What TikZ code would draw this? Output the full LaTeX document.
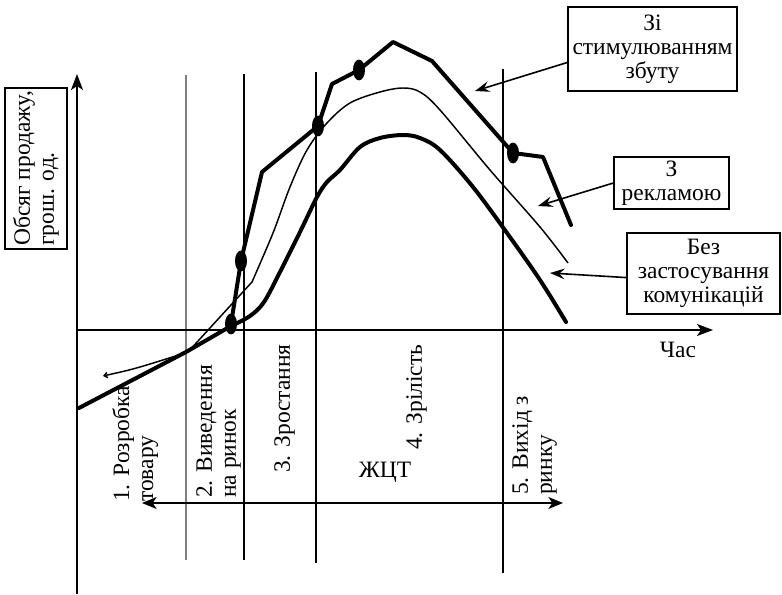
\documentclass[tikz,border=0pt]{standalone}
\usepackage{fontspec}
\setmainfont{Liberation Serif}
\newfontfamily\lserif{Liberation Serif}
\usetikzlibrary{arrows.meta,calc}
\begin{document}
\begin{tikzpicture}[x=0.75pt,y=-0.75pt,
  every node/.style={font=\lserif\fontsize{17.6}{18}\selectfont},
  lbl/.style={draw,line width=1.2pt,align=center,inner sep=2pt},
  gridline/.style={line width=1.2pt},
  boldcurve/.style={line width=3pt,line join=round,line cap=round},
  thincurve/.style={line width=1.1pt},
  lead/.style={line width=1.2pt,-{Stealth[length=11pt,width=8pt,inset=4pt]}},
  axisarrow/.style={-{Stealth[length=12pt,width=9pt,inset=3pt]}},
  stage/.style={rotate=90,anchor=north west,inner sep=0pt,align=left}
]
\useasboundingbox (0,0) rectangle (782,595);

% vertical stage lines
\draw[gridline,gray] (186,75) -- (186,560);
\draw[gridline] (244,74) -- (244,560);
\draw[gridline] (316,72) -- (316,563);
\draw[gridline] (503,69) -- (503,573);

% axes
\coordinate (ybot) at (77,594);
\coordinate (ymid) at (77,360);
\coordinate (ytop) at (77,74);
\coordinate (xo) at (77,330);
\coordinate (xend) at (713,330);
\draw[line width=1pt] (ybot) -- (ymid);
\draw[line width=1.5pt,axisarrow] (ymid) -- (ytop);
\draw[line width=1.5pt,axisarrow] (xo) -- (xend);

% life-cycle span arrow
\coordinate (zl) at (142,503);
\coordinate (zr) at (563,503);
\draw[line width=1.2pt,{Stealth[length=11pt,width=9pt,inset=3pt]}-{Stealth[length=11pt,width=9pt,inset=3pt]}] (zl) -- (zr);

% curve without communications
\draw[boldcurve] (79,408) -- (186,352) -- (231,326) -- plot[smooth,tension=0.55] coordinates {(231,326) (250,316) (264,302) (280,272) (300,232) (317,197) (327,182) (340,170) (360,147) (380,138) (403,135) (420,138) (440,150) (473,187) (507,233) (540,280) (566,322)};

% curve with advertising
\draw[thincurve,{Straight Barb[length=2.5pt,width=4pt]}-] plot[smooth] coordinates {(103,376) (140,367) (188,352)} -- (252,282) -- plot[smooth,tension=0.55] coordinates {(252,282) (273,233) (290,187) (307,150) (327,123) (350,103) (380,92) (403,88) (420,92) (440,110) (490,170) (540,227) (568,263)};

% curve with sales promotion
\draw[boldcurve] (231,324) -- (241,261) -- (262,172) -- (318,126) -- (332,84) -- (359,70) -- (393,42) -- (432,61) -- (513,153) -- (543,157) -- (571,225);
\foreach \p in {(231,324),(241,261),(318,126),(359,70),(513,153)}
  \fill \p ellipse [x radius=4.5pt, y radius=7.8pt];

% boxes
\node[lbl,minimum width=126.75pt,minimum height=63pt] (b1) at (652.5,49) {Зі\\стимулюванням\\збуту};
\node[lbl,minimum width=86pt,minimum height=39pt] (b2) at (671.5,183) {З\\рекламою};
\node[lbl,minimum width=115pt,minimum height=61pt] (b3) at (703.5,273.5) {Без\\застосування\\комунікацій};
\node[draw,line width=1.2pt,rotate=90,align=left,inner sep=2pt,minimum width=120.75pt,minimum height=46.5pt] (yl) at (36,168.5) {Обсяг продажу,\\грош. од.};

% leaders
\coordinate (t1) at (475,91);
\coordinate (t2) at (538,206);
\coordinate (t3) at (550,273);
\draw[lead] (b1.189) -- (t1);
\draw[lead] (b2.west) -- (t2);
\draw[lead] (b3.183) -- (t3);

% stage labels
\node[stage] (s1) at (112,502) {1. Розробка\\товару};
\node[stage] (s2) at (196,498) {2. Виведення\\на ринок};
\node[stage] (s3) at (274,473) {3. Зростання};
\node[stage] (s4) at (406,450) {4. Зрілість};
\node[stage] (s5) at (512,495) {5. Вихід з\\ринку};

\node (zh) at (385,472) {ЖЦТ};
\node (tm) at (678,350) {Час};
\end{tikzpicture}
\end{document}
